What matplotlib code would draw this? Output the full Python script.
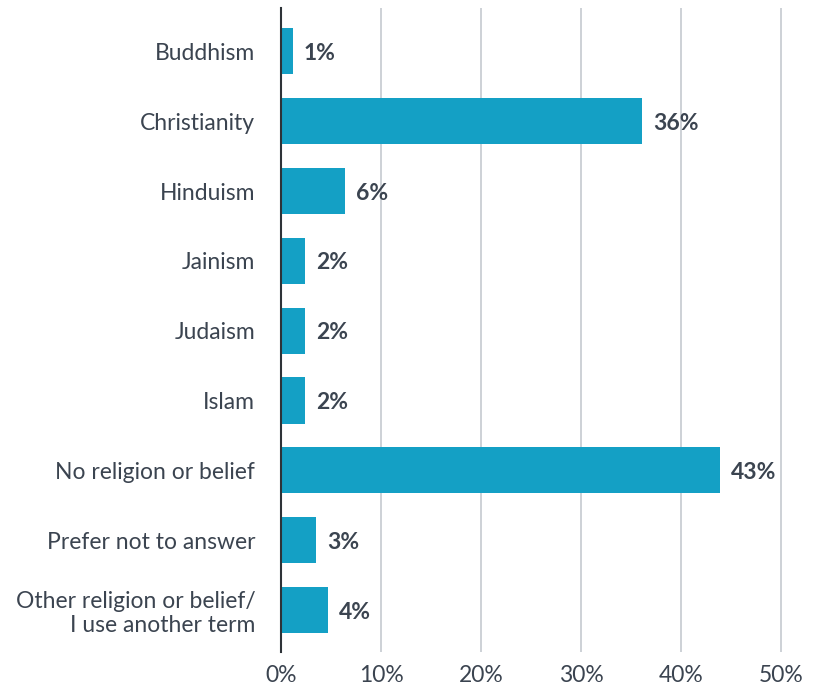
import matplotlib
matplotlib.use("Agg")
import matplotlib.pyplot as plt

# data
religions = ["Buddhism", "Christianity", "Hinduism", "Jainism", "Judaism", "Islam",
             "No religion or belief", "Prefer not to answer",
             "Other religion or belief/\nI use another term"]
shares = [1.2, 36.1, 6.4, 2.4, 2.4, 2.4, 43.9, 3.5, 4.7]
share_labels = ["1%", "36%", "6%", "2%", "2%", "2%", "43%", "3%", "4%"]
ticks = [0, 10, 20, 30, 40, 50]

plt.rcParams['font.family'] = ['Lato', 'DejaVu Sans']
text_col = "#3b4450"

fig = plt.figure(figsize=(8.19, 6.86), dpi=100)
ax = fig.add_axes([281 / 819, 1 - 652 / 686, 510 / 819, 644 / 686])

ys = range(len(religions))
ax.barh(ys, shares, height=0.66, color="#14a0c5", zorder=3)
for y, v, lab in zip(ys, shares, share_labels):
    ax.text(v + 1.1, y + 0.03, lab, va="center", ha="left", fontsize=16.5,
            fontweight="bold", color=text_col, zorder=4)

ax.set_xlim(0, 51)
ax.set_ylim(8.6, -0.62)
ax.set_xticks(ticks)
ax.set_xticklabels(["%d%%" % t for t in ticks])
ax.set_yticks(list(ys))
ax.set_yticklabels(religions, linespacing=1.15)
ax.tick_params(axis="both", length=0, labelsize=16.5, labelcolor=text_col)
ax.tick_params(axis="y", pad=18.5)
ax.tick_params(axis="x", pad=9)
for t in ax.get_yticklabels():
    t.set_horizontalalignment("right")
    t.set_multialignment("right")

ax.grid(axis="x", color="#c9ced3", linewidth=1.3, zorder=0)
for s in ["top", "right", "bottom"]:
    ax.spines[s].set_visible(False)
ax.spines["left"].set_color("#2e3338")
ax.spines["left"].set_linewidth(1.5)
ax.spines["left"].set_zorder(5)

fig.savefig("out.png", dpi=100)
